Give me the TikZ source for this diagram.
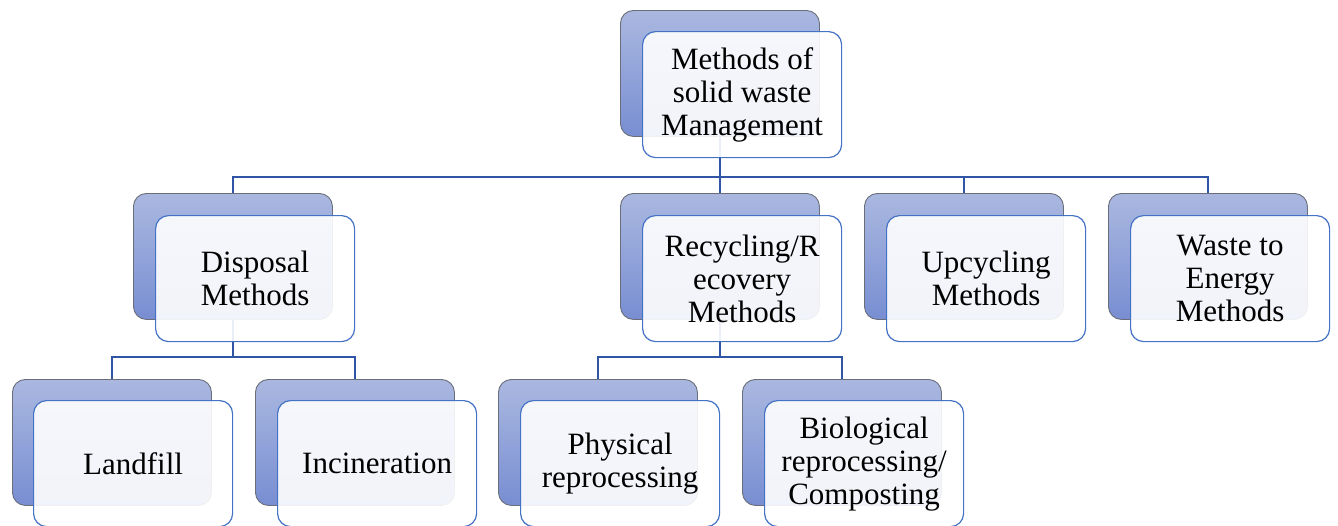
\documentclass[tikz,border=0pt]{standalone}
\usepackage{fontspec}
\setmainfont{Liberation Serif}
\definecolor{backtop}{RGB}{170,184,224}
\definecolor{backbot}{RGB}{120,142,210}
\definecolor{backedge}{RGB}{105,110,120}
\definecolor{frontedge}{RGB}{68,114,196}
\definecolor{linkblue}{RGB}{47,85,164}
\tikzset{
  backbox/.style={draw=backedge, line width=0.9pt, rounded corners=13pt,
    top color=backtop, bottom color=backbot, minimum width=199pt,
    minimum height=126pt, anchor=north west, inner sep=0pt},
  frontbox/.style={draw=frontedge, line width=1.2pt, rounded corners=13pt,
    fill=white, fill opacity=0.9, text opacity=1, minimum width=199pt,
    minimum height=126pt, anchor=north west, inner sep=0pt, align=center,
    font=\fontsize{31}{33}\selectfont},
  conn/.style={draw=linkblue, line width=2.2pt}
}
\begin{document}
\begin{tikzpicture}[x=1pt,y=-1pt]
\useasboundingbox (0,0) rectangle (1338,525);

% back panels
\node[backbox] (topB) at (620,10) {};
\node[backbox] (disB) at (133,193) {};
\node[backbox] (recB) at (620,193) {};
\node[backbox] (upcB) at (864,193) {};
\node[backbox] (wteB) at (1108,193) {};
\node[backbox] (lanB) at (12,379) {};
\node[backbox] (incB) at (255,379) {};
\node[backbox] (phyB) at (498,379) {};
\node[backbox] (bioB) at (742,379) {};

% bus lines of the tree
\coordinate (bus1) at (720,177);
\coordinate (bus2) at (233,357);
\coordinate (bus3) at (720,357);

\draw[conn] (topB.south) -- (topB.south |- bus1);
\draw[conn] (disB.north) |- (bus1) -| (wteB.north);
\draw[conn] (recB.north) -- (recB.north |- bus1);
\draw[conn] (upcB.north) -- (upcB.north |- bus1);
\draw[conn] (disB.south) -- (disB.south |- bus2);
\draw[conn] (lanB.north) |- (bus2) -| (incB.north);
\draw[conn] (recB.south) -- (recB.south |- bus3);
\draw[conn] (phyB.north) |- (bus3) -| (bioB.north);

% front cards with the labels
\node[frontbox] (topF) at (642,31) {Methods of\\solid waste\\Management};
\node[frontbox] (disF) at (155,215) {Disposal\\Methods};
\node[frontbox] (recF) at (642,215) {Recycling/R\\ecovery\\Methods};
\node[frontbox] (upcF) at (886,215) {Upcycling\\Methods};
\node[frontbox] (wteF) at (1130,215) {Waste to\\Energy\\Methods};
\node[frontbox] (lanF) at (33,400) {Landfill};
\node[frontbox] (incF) at (277,400) {Incineration};
\node[frontbox] (phyF) at (520,400) {Physical\\reprocessing};
\node[frontbox] (bioF) at (764,400) {Biological\\reprocessing/\\Composting};
\end{tikzpicture}
\end{document}
